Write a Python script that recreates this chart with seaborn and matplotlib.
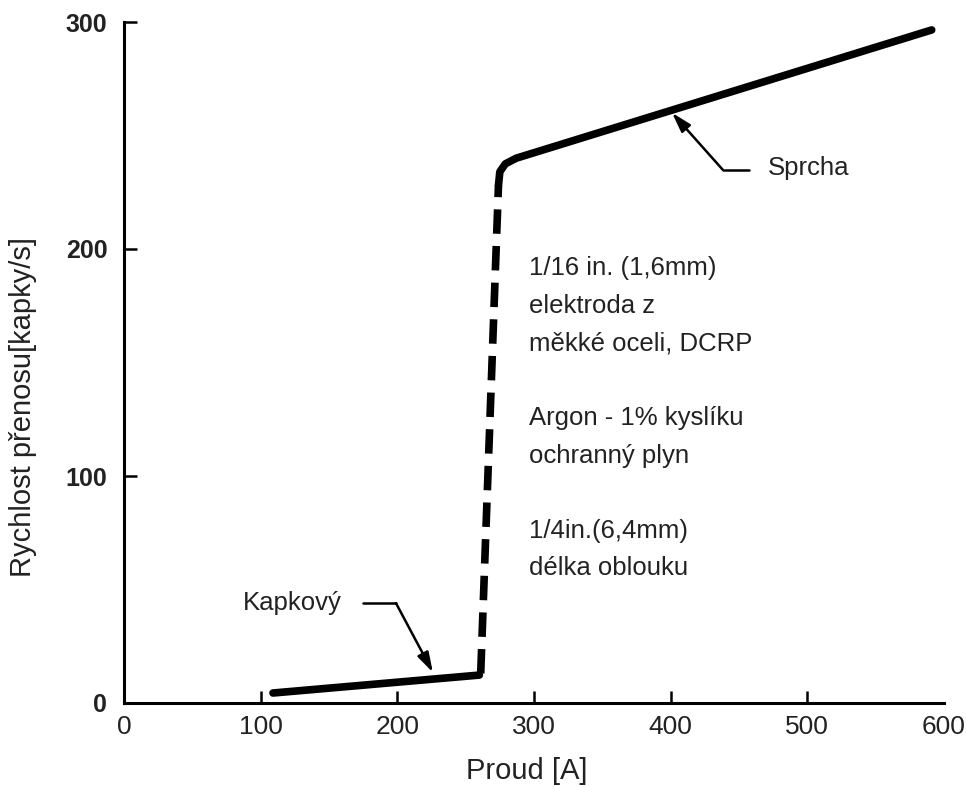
import matplotlib
matplotlib.use("Agg")
import matplotlib.pyplot as plt
import seaborn as sns
import pandas as pd

# data
globular_x = [109, 260]
globular_y = [4.4, 12.3]
transition_x = [261, 274]
transition_y = [13, 228]
spray_x = [274, 275, 279, 287, 591]
spray_y = [228, 234, 237.5, 240, 296.5]

x_ticks = [0, 100, 200, 300, 400, 500, 600]
y_ticks = [0, 100, 200, 300]

note_lines = ["1/16 in. (1,6mm)", "elektroda z", "měkké oceli, DCRP", "",
              "Argon - 1% kyslíku", "ochranný plyn", "",
              "1/4in.(6,4mm)", "délka oblouku"]

sns.set_theme(style="ticks")
plt.rcParams['font.family'] = ['Liberation Sans', 'DejaVu Sans']
narrow = ['Liberation Sans Narrow', 'Liberation Sans', 'DejaVu Sans']

fig = plt.figure(figsize=(9.66, 7.87), dpi=100)
ax = fig.add_axes([124/966, 1-703/787, (944-124)/966, (703-22)/787])

df1 = pd.DataFrame({"x": globular_x, "y": globular_y})
df2 = pd.DataFrame({"x": transition_x, "y": transition_y})
df3 = pd.DataFrame({"x": spray_x, "y": spray_y})
sns.lineplot(data=df1, x="x", y="y", ax=ax, color="black", lw=5.5, sort=False,
             solid_capstyle="round")
sns.lineplot(data=df2, x="x", y="y", ax=ax, color="black", lw=5.5, sort=False,
             dashes=False, linestyle=(0, (3.2, 1.6)))
sns.lineplot(data=df3, x="x", y="y", ax=ax, color="black", lw=5.5, sort=False,
             solid_capstyle="round", solid_joinstyle="round")

ax.set_xlim(0, 600)
ax.set_ylim(0, 300)
ax.set_xticks(x_ticks)
ax.set_yticks(y_ticks)
ax.set_xticklabels([str(v) for v in x_ticks], fontsize=19, color="#222222",
                   family=narrow)
ax.set_yticklabels([str(v) for v in y_ticks], fontsize=18, color="#222222",
                   fontweight="bold")
ax.tick_params(direction="in", length=9, width=1.8, colors="black")
ax.tick_params(axis="y", pad=12)
ax.tick_params(axis="x", pad=9)
for lab in ax.get_xticklabels() + ax.get_yticklabels():
    lab.set_color("#222222")
ax.xaxis.get_major_ticks()[-1].tick1line.set_visible(False)
sns.despine(ax=ax)
for s in ["left", "bottom"]:
    ax.spines[s].set_linewidth(2.2)
    ax.spines[s].set_color("black")

ax.set_xlabel("Proud [A]", fontsize=21, color="#222222", family=narrow)
ax.set_ylabel("Rychlost přenosu[kapky/s]", fontsize=21, color="#222222",
              family=narrow)
ax.yaxis.set_label_coords(-0.106, 0.435)
ax.xaxis.set_label_coords(0.491, -0.08)

fs = 18.5
# annotations
ax.text(159, 44, "Kapkový", fontsize=fs, color="#222222", ha="right", va="center")
ax.plot([175, 199], [44, 44], color="black", lw=1.8)
ax.annotate("", xy=(226, 13.5), xytext=(199, 44),
            arrowprops=dict(arrowstyle="-|>,head_length=1.0,head_width=0.3",
                            color="black", lw=1.8, shrinkA=0, shrinkB=0))

ax.text(471, 235.5, "Sprcha", fontsize=fs, color="#222222", ha="left", va="center")
ax.plot([438, 457], [235, 235], color="black", lw=1.8)
ax.annotate("", xy=(401, 260), xytext=(438, 235),
            arrowprops=dict(arrowstyle="-|>,head_length=1.0,head_width=0.3",
                            color="black", lw=1.8, shrinkA=0, shrinkB=0))

y0 = 191.5
step = 37.5 / 2.27
for i, line in enumerate(note_lines):
    if line:
        ax.text(296, y0 - i * step, line, fontsize=fs, color="#222222",
                ha="left", va="center")

fig.savefig("out.png", dpi=100)
